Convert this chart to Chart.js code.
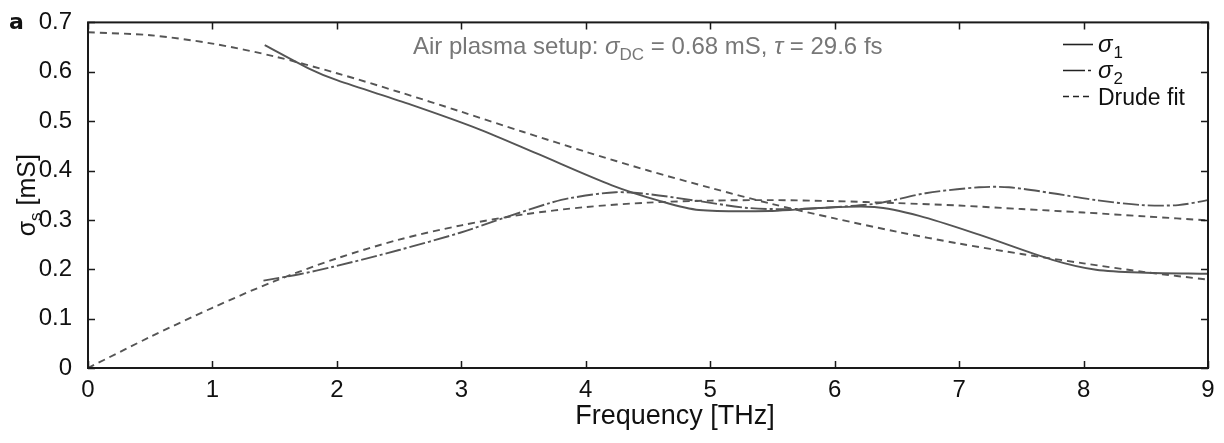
<!DOCTYPE html>
<html>
<head>
<meta charset="utf-8">
<script src="https://cdn.jsdelivr.net/npm/chart.js@4"></script>
<style>
  html, body { margin: 0; padding: 0; background: #fff; }
  #wrap { width: 1224px; height: 443px; }
</style>
</head>
<body>
<div id="wrap"><canvas id="plasmaCanvas" width="1224" height="443"></canvas></div>
<script>
// measured sigma_1 (solid)
const freq1 = [1.42, 1.78, 2.0, 2.6, 3.15, 3.61, 4.21, 4.6, 4.91, 5.5, 5.87, 6.32, 6.68, 7.16, 7.75, 8.1, 8.5, 9.0];
const sigma1 = [0.654, 0.606, 0.583, 0.533, 0.483, 0.434, 0.370, 0.338, 0.320, 0.318, 0.324, 0.326, 0.308, 0.270, 0.219, 0.199, 0.193, 0.191];

// measured sigma_2 (dash-dot)
const freq2 = [1.41, 1.7, 1.97, 2.5, 2.99, 3.39, 3.71, 3.87, 4.24, 4.51, 4.91, 5.31, 5.7, 6.12, 6.36, 6.73, 7.16, 7.4, 7.75, 8.1, 8.47, 8.76, 9.0];
const sigma2 = [0.177, 0.190, 0.205, 0.239, 0.274, 0.308, 0.334, 0.344, 0.356, 0.352, 0.338, 0.324, 0.322, 0.328, 0.334, 0.354, 0.366, 0.366, 0.354, 0.340, 0.330, 0.330, 0.340];

// Drude fit curves (dashed)
const fitFreq = [0, 0.5, 1, 1.5, 2, 2.5, 3, 3.5, 4, 4.5, 5, 5.5, 6, 6.5, 7, 7.5, 8, 8.5, 9];
const fitSigma1 = [0.680, 0.674, 0.657, 0.631, 0.597, 0.559, 0.519, 0.478, 0.438, 0.400, 0.365, 0.332, 0.303, 0.276, 0.252, 0.231, 0.212, 0.194, 0.179];
const fitSigma2 = [0.000, 0.063, 0.122, 0.176, 0.222, 0.260, 0.289, 0.311, 0.326, 0.335, 0.339, 0.340, 0.338, 0.334, 0.329, 0.322, 0.315, 0.307, 0.299];

const xTicks = [0, 1, 2, 3, 4, 5, 6, 7, 8, 9];
const yTicks = [0, 0.1, 0.2, 0.3, 0.4, 0.5, 0.6, 0.7];

const pts = (xs, ys) => xs.map((x, i) => ({ x: x, y: ys[i] }));
const lineCol = '#555';
const font = "'Liberation Sans', Arial, sans-serif";

const dashes = {
  solid: [],
  dashdot: [16, 3, 3, 3],
  dashed: [7, 5]
};

// draws frame, inward ticks, legend and text labels
const decor = {
  id: 'decor',
  afterDraw(chart) {
    const ctx = chart.ctx;
    const a = chart.chartArea;
    const xs = chart.scales.x, ys = chart.scales.y;
    ctx.save();
    ctx.strokeStyle = '#1a1a1a';
    ctx.lineWidth = 2;
    ctx.strokeRect(a.left, a.top, a.right - a.left, a.bottom - a.top);
    ctx.lineWidth = 1.5;
    const tl = 7;
    ctx.beginPath();
    xTicks.forEach(v => {
      const px = Math.round(xs.getPixelForValue(v)) + 0.5;
      ctx.moveTo(px, a.bottom); ctx.lineTo(px, a.bottom - tl);
      ctx.moveTo(px, a.top); ctx.lineTo(px, a.top + tl);
    });
    yTicks.forEach(v => {
      const py = Math.round(ys.getPixelForValue(v)) + 0.5;
      ctx.moveTo(a.left, py); ctx.lineTo(a.left + tl, py);
      ctx.moveTo(a.right, py); ctx.lineTo(a.right - tl, py);
    });
    ctx.stroke();

    // panel letter
    ctx.fillStyle = '#111';
    ctx.font = "bold 22px 'DejaVu Sans', sans-serif";
    ctx.textBaseline = 'alphabetic';
    ctx.textAlign = 'left';
    ctx.fillText('a', 9, 29);

    // x axis title
    ctx.font = '27px ' + font;
    ctx.textAlign = 'center';
    ctx.fillText('Frequency [THz]', 675, 424);
    ctx.textAlign = 'left';

    // y axis title: sigma_s [mS]
    ctx.save();
    ctx.translate(35, (a.top + a.bottom) / 2);
    ctx.rotate(-Math.PI / 2);
    const p1 = 'σ', p3 = ' [mS]';
    ctx.font = '25px ' + font;
    const w1 = ctx.measureText(p1).width;
    ctx.font = '17px ' + font;
    const w2 = ctx.measureText('s').width;
    ctx.font = '25px ' + font;
    const w3 = ctx.measureText(p3).width;
    let sx = -(w1 + w2 + w3) / 2;
    ctx.fillText(p1, sx, 0); sx += w1;
    ctx.font = '17px ' + font;
    ctx.fillText('s', sx, 6); sx += w2;
    ctx.font = '25px ' + font;
    ctx.fillText(p3, sx, 0);
    ctx.restore();

    // annotation line
    const parts = [
      { t: 'Air plasma setup: ', f: '24px ' + font, dy: 0 },
      { t: 'σ', f: 'italic 24px ' + font, dy: 0 },
      { t: 'DC', f: '17px ' + font, dy: 6 },
      { t: ' = 0.68 mS, ', f: '24px ' + font, dy: 0 },
      { t: 'τ', f: 'italic 24px ' + font, dy: 0 },
      { t: ' = 29.6 fs', f: '24px ' + font, dy: 0 }
    ];
    ctx.fillStyle = '#777';
    let tx = 413;
    parts.forEach(p => {
      ctx.font = p.f;
      ctx.fillText(p.t, tx, 54 + p.dy);
      tx += ctx.measureText(p.t).width;
    });

    // legend
    const ds = chart.data.datasets;
    const rows = [ds[0], ds[1], ds[2]];
    const rowY = [44, 70, 96];
    rows.forEach((d, i) => {
      const y = rowY[i] + 0.5;
      ctx.strokeStyle = '#222';
      ctx.lineWidth = 1.6;
      ctx.setLineDash(d.legendDash);
      ctx.beginPath();
      ctx.moveTo(1063, y); ctx.lineTo(1093, y);
      ctx.stroke();
      ctx.setLineDash([]);
      ctx.fillStyle = '#111';
      let lx = 1098;
      if (d.sub) {
        ctx.font = 'italic 24px ' + font;
        ctx.fillText('σ', lx, y + 7);
        lx += ctx.measureText('σ').width + 1;
        ctx.font = '17px ' + font;
        ctx.fillText(d.sub, lx, y + 13);
      } else {
        ctx.font = '23px ' + font;
        ctx.fillText(d.label, lx, y + 8);
      }
    });
    ctx.restore();
  }
};

new Chart(document.getElementById('plasmaCanvas').getContext('2d'), {
  type: 'scatter',
  data: {
    datasets: [
      { label: 'σ1', sub: '1', data: pts(freq1, sigma1), borderDash: dashes.solid, legendDash: [] },
      { label: 'σ2', sub: '2', data: pts(freq2, sigma2), borderDash: dashes.dashdot, legendDash: [22, 3, 3, 3] },
      { label: 'Drude fit', data: pts(fitFreq, fitSigma1), borderDash: dashes.dashed, legendDash: [6, 4] },
      { label: 'Drude fit σ2', data: pts(fitFreq, fitSigma2), borderDash: dashes.dashed, legendDash: [6, 4] }
    ].map(d => Object.assign(d, {
      showLine: true,
      borderColor: lineCol,
      borderWidth: 1.9,
      pointRadius: 0,
      tension: 0.3,
      fill: false
    }))
  },
  options: {
    responsive: false,
    animation: false,
    layout: { padding: { left: 0, right: 16, top: 16, bottom: 0 } },
    plugins: {
      legend: { display: false },
      tooltip: { enabled: false }
    },
    scales: {
      x: {
        type: 'linear',
        min: 0, max: 9,
        afterBuildTicks: s => { s.ticks = xTicks.map(v => ({ value: v })); },
        afterFit: s => { s.height = 75; },
        grid: { display: false },
        border: { display: false },
        ticks: { color: '#111', font: { family: font, size: 24 }, padding: 0 }
      },
      y: {
        min: 0, max: 0.7,
        afterBuildTicks: s => { s.ticks = yTicks.map(v => ({ value: v })); },
        afterFit: s => { s.width = 88; },
        grid: { display: false },
        border: { display: false },
        ticks: {
          color: '#111',
          font: { family: font, size: 24 },
          padding: 8,
          callback: v => v === 0 ? '0' : v.toFixed(1)
        }
      }
    }
  },
  plugins: [decor]
});
</script>
</body>
</html>
